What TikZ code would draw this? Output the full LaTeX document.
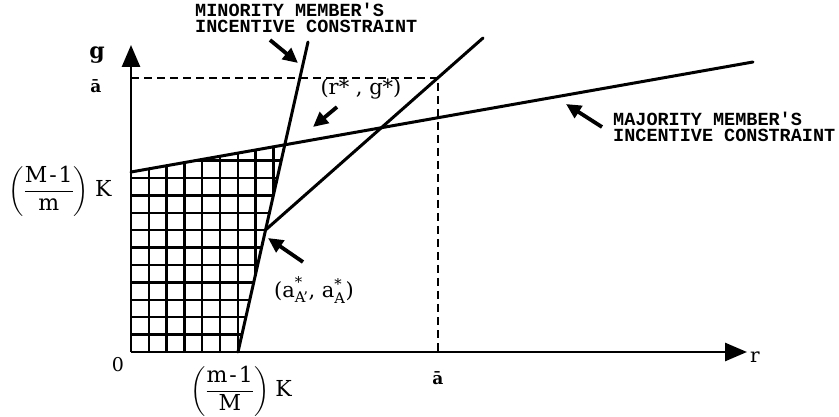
\documentclass[tikz,border=0pt]{standalone}
\usepackage{fontspec}
\usepackage{amsmath}
\setmainfont{DejaVu Serif}
\newfontfamily\capsfont{Liberation Mono}
\usetikzlibrary{arrows.meta}
\tikzset{
  axis/.style={
    line width=2.8pt,
    -{Triangle[length=22pt,width=18pt]}
  },
  bound/.style={line width=3pt, line cap=round},
  guide/.style={line width=2.6pt, dash pattern=on 8pt off 5pt},
  mesh/.style={line width=2.3pt},
  pointer/.style={
    line width=3.8pt,
    -{Triangle[length=15pt,width=14pt]}
  },
  caps/.style={
    font=\capsfont\bfseries\fontsize{18.5}{16}\selectfont,
    align=left,
    inner sep=0pt,
    anchor=north west
  },
  lbl/.style={inner sep=0pt, font=\fontsize{21}{24}\selectfont},
  frac/.style={inner sep=0pt, font=\fontsize{22}{24}\selectfont}
}

\begin{document}
\begin{tikzpicture}[x=1pt,y=-1pt]
  \useasboundingbox (0,0) rectangle (839,417);
  % key points
  \coordinate (O) at (131,352);
  \coordinate (xend) at (747,352);
  \coordinate (yend) at (131,45);
  \coordinate (minlow) at (238,352);
  \coordinate (minhigh) at (308,42);
  \coordinate (majlow) at (131,172);
  \coordinate (majhigh) at (753,62);
  \coordinate (corner) at (285,145);
  \coordinate (akink) at (265.5,230);
  \coordinate (ahigh) at (483,38);
  \coordinate (gbar) at (131,78);
  \coordinate (top) at (438,78);
  \coordinate (abar) at (438,352);
  % feasible set
  \begin{scope}
    \clip (O) -- (minlow) -- (corner) -- (majlow) -- cycle;
    \foreach \k in {1,...,9}
      \draw[mesh] ({131+17.8*\k},140) -- ({131+17.8*\k},352);
    \foreach \k in {1,...,12}
      \draw[mesh] (131,{352-17.4*\k}) -- (290,{352-17.4*\k});
  \end{scope}
  \draw[guide] (gbar) -- (top) -- (abar);
  \draw[bound] (minlow) -- (minhigh);
  \draw[bound] (majlow) -- (majhigh);
  \draw[bound] (akink) -- (ahigh);
  \draw[axis] (O) -- (xend);
  \draw[axis] (O) -- (yend);
  % labels
  \node[caps] (minlabel) at (195,3) {MINORITY MEMBER'S\\INCENTIVE CONSTRAINT};
  \node[caps] (majlabel) at (613,112) {MAJORITY MEMBER'S\\INCENTIVE CONSTRAINT};
  \node[lbl] (rg) at (361,89) {(r* , g*)};
  \node[lbl] (aa) at (314,290)
    {$\text{(a}^{\text{*}}_{\text{A'}}\text{, a}^{\text{*}}_{\text{A}}\text{)}$};
  \node[frac] (kbig) at (60,191)
    {$\displaystyle\left(\frac{\text{M\kern2pt-\kern2pt1}}{\text{m}}\right)$\kern6pt K};
  \node[frac] (ksmall) at (241,391)
    {$\displaystyle\left(\frac{\text{m\kern2pt-\kern2pt1}}{\text{M}}\right)$\kern6pt K};
  \node[lbl, font=\bfseries\fontsize{22}{24}\selectfont] (glabel) at (97,55) {g};
  \node[lbl, font=\bfseries\fontsize{17}{20}\selectfont] (abarleft) at (96,86) {\=a};
  \node[lbl, font=\fontsize{19}{20}\selectfont] (zero) at (118,365) {0};
  \node[lbl, font=\fontsize{20}{20}\selectfont] (rlabel) at (755,357) {r};
  \node[lbl, font=\bfseries\fontsize{17}{20}\selectfont] (abarlow) at (438,378) {\=a};
  % pointers
  \coordinate (mintail) at (270,40);
  \coordinate (mintip) at (298,63);
  \coordinate (majtail) at (602,127);
  \coordinate (majtip) at (566,104);
  \coordinate (rgtail) at (337,107);
  \coordinate (rgtip) at (313,127);
  \coordinate (aatail) at (303,262);
  \coordinate (aatip) at (268,238);
  \draw[pointer] (mintail) -- (mintip);
  \draw[pointer] (majtail) -- (majtip);
  \draw[pointer] (rgtail) -- (rgtip);
  \draw[pointer] (aatail) -- (aatip);
\end{tikzpicture}
\end{document}
